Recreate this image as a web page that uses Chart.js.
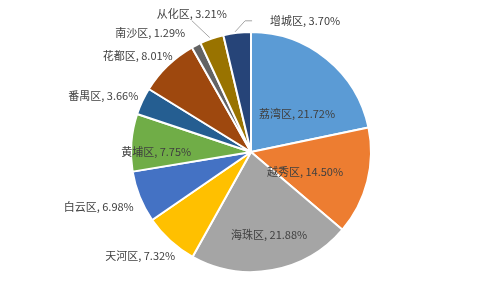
<!DOCTYPE html>
<html><head><meta charset="utf-8">
<script src="https://cdn.jsdelivr.net/npm/chart.js@4/dist/chart.umd.min.js"></script>
<style>html,body{margin:0;padding:0;background:#fff}#wrap{width:500px;height:308px}</style>
</head><body><div id="wrap"><canvas id="c" width="500" height="308"></canvas></div>
<script>
const categories = ['荔湾区','越秀区','海珠区','天河区','白云区','黄埔区','番禺区','花都区','南沙区','从化区','增城区'];
const shares = [21.72, 14.50, 21.88, 7.32, 6.98, 7.75, 3.66, 8.01, 1.29, 3.21, 3.70];
const colors = ['#5B9BD5','#ED7D31','#A5A5A5','#FFC000','#4472C4','#70AD47','#255E91','#9E480E','#636363','#997300','#264478'];

// label placement: inside (k = fraction of radius, da = angle shift deg) or outside (offset from slice edge midpoint)
const labelPlace = [
  {mode:'in', k:0.50, da:11},
  {mode:'in', k:0.48, da:6},
  {mode:'in', k:0.71, da:-2},
  {mode:'out', dx:5, dy:15, align:'right'},
  {mode:'out', dx:-6, dy:10, align:'right'},
  {mode:'in', k:0.79, da:-4.6},
  {mode:'out', dx:-4, dy:-5, align:'right'},
  {mode:'out', dx:5, dy:-10, align:'right'},
  {mode:'out', dx:-11, dy:-12, align:'right'},
  {mode:'out', dx:-20, dy:-25, align:'center', leader:'straight'},
  {mode:'out', dx:33, dy:-12, align:'left', leader:'elbow'}
];

const labelPlugin = {
  id:'pieLabels',
  afterDatasetsDraw(chart){
    const ctx = chart.ctx;
    const meta = chart.getDatasetMeta(0);
    ctx.save();
    ctx.font = '11px "Noto Sans CJK SC", "Microsoft YaHei", sans-serif';
    ctx.fillStyle = '#404040';
    ctx.textBaseline = 'middle';
    meta.data.forEach((arc, i) => {
      const p = labelPlace[i];
      const text = categories[i] + ', ' + shares[i].toFixed(2) + '%';
      const mid = (arc.startAngle + arc.endAngle) / 2;
      const cx = arc.x, cy = arc.y, r = arc.outerRadius;
      if (p.mode === 'in') {
        const a = mid + p.da * Math.PI / 180;
        ctx.textAlign = 'center';
        ctx.fillText(text, cx + Math.cos(a) * r * p.k, cy + Math.sin(a) * r * p.k);
      } else {
        const ex = cx + Math.cos(mid) * r, ey = cy + Math.sin(mid) * r;
        const tx = ex + p.dx, ty = ey + p.dy;
        if (p.leader) {
          ctx.strokeStyle = '#A6A6A6';
          ctx.lineWidth = 1;
          ctx.beginPath();
          ctx.moveTo(ex - 2, ey - 1);
          if (p.leader === 'straight') {
            ctx.lineTo(tx, ty + 7);
          } else {
            ctx.lineTo(ex + 8, ty);
            ctx.lineTo(tx - 18, ty);
          }
          ctx.stroke();
        }
        ctx.textAlign = p.align;
        ctx.fillText(text, tx, ty);
      }
    });
    ctx.restore();
  }
};

new Chart(document.getElementById('c'), {
  type:'pie',
  data:{
    labels: categories,
    datasets:[{
      data: shares,
      backgroundColor: colors,
      borderColor:'#ffffff',
      borderWidth:2
    }]
  },
  options:{
    responsive:false,
    animation:false,
    layout:{padding:{top:31,bottom:35,left:130,right:128}},
    plugins:{legend:{display:false},tooltip:{enabled:false}}
  },
  plugins:[labelPlugin]
});
</script>
</body></html>
